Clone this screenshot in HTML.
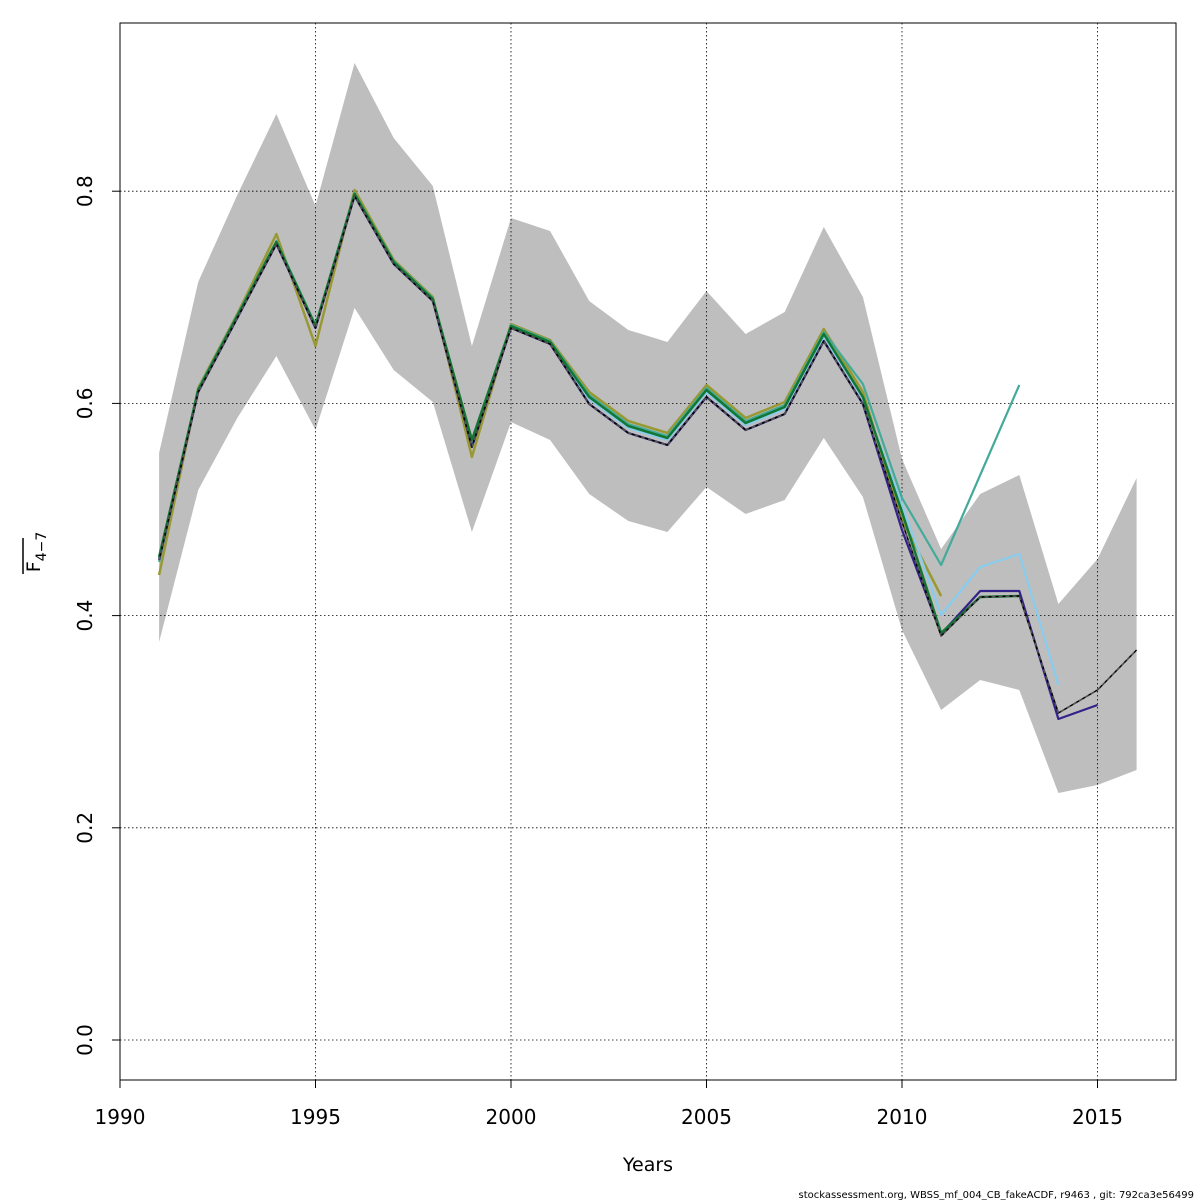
<!DOCTYPE html>
<html><head><meta charset="utf-8"><style>body{margin:0;background:#fff}svg{display:block}</style></head><body>
<svg id="s" width="1200" height="1200" xmlns="http://www.w3.org/2000/svg" font-family="DejaVu Sans, Liberation Sans, sans-serif">
<rect width="1200" height="1200" fill="#fff"/>
<polygon id="band" fill="#bebebe" stroke="none"/>
<g id="grid" stroke="#000" stroke-width="0.8" stroke-dasharray="1.5,2.5"></g>
<g id="lines" fill="none" stroke-linejoin="round"></g>
<rect x="120" y="23" width="1056" height="1057" fill="none" stroke="#000" stroke-width="1"/>
<g id="ticks" stroke="#000"></g>
<g id="labels" font-size="20" fill="#000"></g>
<text x="648" y="1171" font-size="19" text-anchor="middle">Years</text>
<text transform="translate(40,552) rotate(-90)" font-size="19" text-anchor="middle">F<tspan font-size="14" dy="6">4−7</tspan></text>
<line x1="23" y1="538" x2="23" y2="574" stroke="#000" stroke-width="1.5"/>
<text x="1194" y="1198" font-size="10" text-anchor="end">stockassessment.org, WBSS_mf_004_CB_fakeACDF, r9463 , git: 792ca3e56499</text>
</svg>
<script>
const X=y=>120+(y-1990)*39.1, Y=v=>1040-v*1061;
const up=[453,282,195,114,206,63,138,186,346,218,231,301,330,342,291,334,312,227,297,459,549,494,475,604,559,478];
const lo=[642,490,418,356,430,308,370,402,532,422,440,494,521,532,487,514,500,438,497,630,710,680,690,793,785,770];
let pts=[];up.forEach((v,i)=>pts.push(X(1991+i)+","+v));for(let i=lo.length-1;i>=0;i--)pts.push(X(1991+i)+","+lo[i]);
document.getElementById('band').setAttribute('points',pts.join(' '));
const ns="http://www.w3.org/2000/svg";
function el(p,t,a,txt){const e=document.createElementNS(ns,t);for(const k in a)e.setAttribute(k,a[k]);if(txt!=null)e.textContent=txt;document.getElementById(p).appendChild(e);}
[1995,2000,2005,2010,2015].forEach(y=>el('grid','line',{x1:X(y),x2:X(y),y1:23,y2:1080}));
[0,0.2,0.4,0.6,0.8].forEach(v=>el('grid','line',{x1:120,x2:1176,y1:Y(v),y2:Y(v)}));
[1990,1995,2000,2005,2010,2015].forEach(y=>{el('ticks','line',{x1:X(y),x2:X(y),y1:1080,y2:1088});el('labels','text',{x:X(y),y:1124,'text-anchor':'middle'},y)});
[0,0.2,0.4,0.6,0.8].forEach(v=>{el('ticks','line',{x1:112,x2:120,y1:Y(v),y2:Y(v)});el('labels','text',{transform:`translate(92,${Y(v)}) rotate(-90)`,'text-anchor':'middle'},v.toFixed(1))});
const base=[560,392,318,244,328,196,264,301,447,328,344,404,433,445,397,430,414,341,404,522,636,597,596,713,690,650];
function line(vals,col,w,dash){el('lines','polyline',Object.assign({points:vals.map((v,i)=>X(1991+i)+","+v).join(' '),stroke:col,'stroke-width':w},dash?{'stroke-dasharray':dash}:{}));}
function mk(off,n,over){return base.slice(0,n).map((v,i)=>(over[i]!=null)?over[i]:v+(i<19?(i>=11?off:Math.round(off/3)):0));}
line(mk(-12,21,{0:575,3:234,4:346,5:190,8:457,19:520,20:596}),'#999933',2.5);
line(mk(-9,23,{0:562,8:445,19:498,20:565,21:475,22:385,18:384}),'#44aa99',2.2);
line(mk(-5,24,{19:505,20:615,21:567,22:554,23:685}),'#88ccee',2.2);
line(mk(0,25,{19:530,20:634,21:591,22:591,23:719,24:705}),'#332288',2.2);
line(mk(-7,23,{0:557,4:326,8:440,19:512,20:633,21:597,22:596}),'#117733',2.5);
line(base,'#000',1.5);line(base,'#555',1.5,'4,3');
</script>
</body></html>
